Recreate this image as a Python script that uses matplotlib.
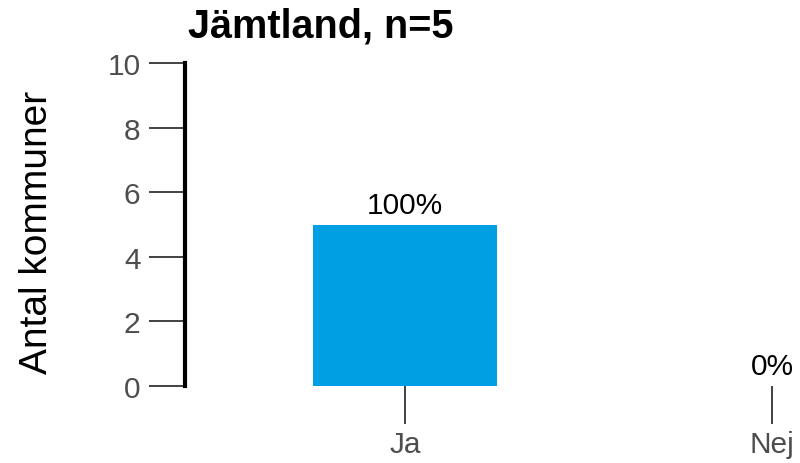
import matplotlib.pyplot as plt

plt.rcParams['font.family'] = ['Liberation Sans', 'DejaVu Sans']

# antal kommuner per svar
categories = ['Ja', 'Nej']
counts = [5, 0]
percent_labels = ['100%', '0%']
y_ticks = [0, 2, 4, 6, 8, 10]

fig = plt.figure(figsize=(8, 4.64), dpi=100)
ax = fig.add_axes([185 / 800, 77 / 464, 615 / 800, 323 / 464])

x = list(range(len(categories)))
bars = ax.bar(x, counts, width=0.5, color='#009FE3')
ax.bar_label(bars, labels=percent_labels, padding=4, fontsize=21.5, color='black')

ax.set_xlim(-0.5995, 1.076)
ax.set_ylim(0, 10)
ax.set_xticks(x)
ax.set_xticklabels(categories)
ax.set_yticks(y_ticks)

for side in ['top', 'right', 'bottom']:
    ax.spines[side].set_visible(False)
ax.spines['left'].set_linewidth(3)
ax.spines['left'].set_color('black')

ax.tick_params(axis='y', length=26, width=1.3, color='#333333', pad=6,
               labelsize=21.5, labelcolor='#4d4d4d')
ax.tick_params(axis='x', length=27, width=1.3, color='#333333', pad=5,
               labelsize=21.5, labelcolor='#4d4d4d')

fig.text(321 / 800, 1 - 26 / 464, 'Jämtland, n=5', ha='center', va='center',
         fontsize=28.5, fontweight='bold')
fig.text(37 / 800, 1 - 232 / 464, 'Antal kommuner', ha='center', va='center',
         rotation=90, fontsize=28)

fig.savefig('out.png', dpi=100)
